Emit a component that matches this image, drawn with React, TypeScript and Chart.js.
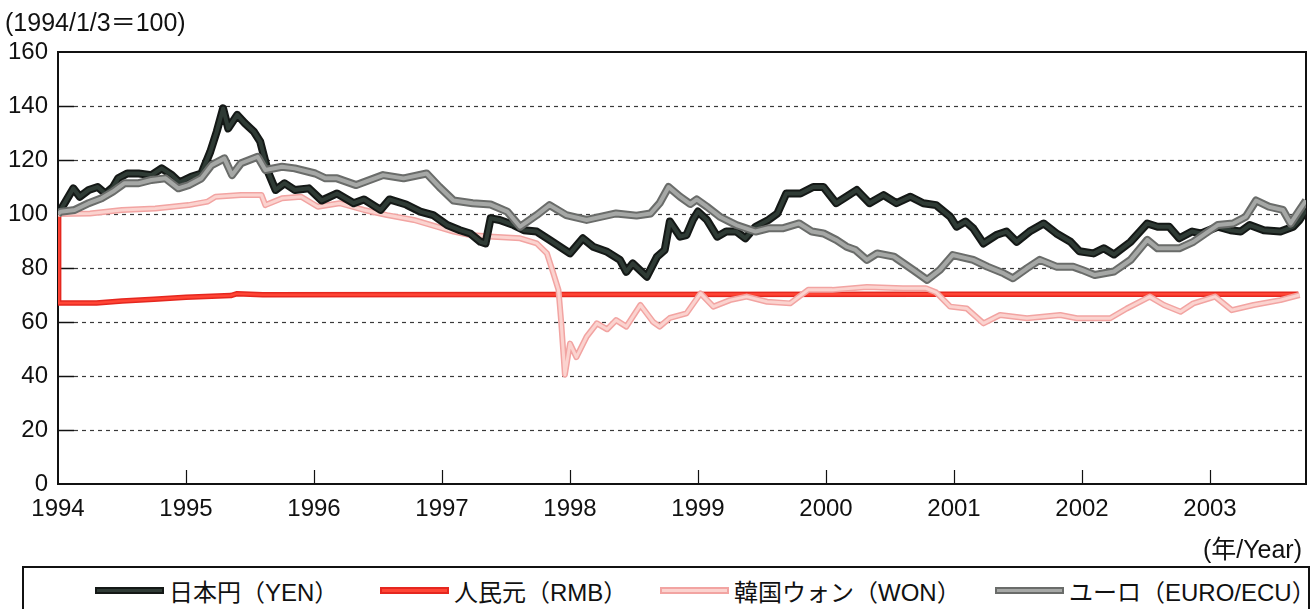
import React, { useEffect, useRef } from "react";
import { Chart, registerables } from "chart.js";

Chart.register(...registerables);

// ---------- data (decimal year, index 1994/1/3 = 100) ----------
const YEAR_TICKS = [1994, 1995, 1996, 1997, 1998, 1999, 2000, 2001, 2002, 2003];
const VALUE_TICKS = [0, 20, 40, 60, 80, 100, 120, 140, 160];

const YEN_T = [1994.0, 1994.02, 1994.12, 1994.17, 1994.24, 1994.31, 1994.37, 1994.43, 1994.47, 1994.54, 1994.63, 1994.73, 1994.81, 1994.89, 1994.95, 1995.04, 1995.12, 1995.19, 1995.24, 1995.29, 1995.33, 1995.4, 1995.46, 1995.53, 1995.58, 1995.64, 1995.7, 1995.77, 1995.85, 1995.96, 1996.06, 1996.18, 1996.31, 1996.39, 1996.52, 1996.59, 1996.72, 1996.83, 1996.93, 1997.04, 1997.14, 1997.22, 1997.3, 1997.34, 1997.38, 1997.45, 1997.56, 1997.64, 1997.74, 1997.84, 1998.0, 1998.1, 1998.18, 1998.29, 1998.39, 1998.44, 1998.49, 1998.6, 1998.68, 1998.74, 1998.78, 1998.86, 1998.91, 1998.96, 1999.0, 1999.07, 1999.15, 1999.22, 1999.3, 1999.37, 1999.45, 1999.55, 1999.62, 1999.69, 1999.8, 1999.9, 1999.98, 2000.08, 2000.16, 2000.24, 2000.34, 2000.45, 2000.55, 2000.66, 2000.76, 2000.86, 2000.97, 2001.02, 2001.09, 2001.15, 2001.23, 2001.33, 2001.41, 2001.49, 2001.59, 2001.7, 2001.8, 2001.91, 2001.98, 2002.09, 2002.17, 2002.25, 2002.38, 2002.51, 2002.59, 2002.68, 2002.76, 2002.86, 2002.93, 2003.06, 2003.16, 2003.24, 2003.31, 2003.42, 2003.55, 2003.65, 2003.7, 2003.75];
const YEN_V = [100, 101.5, 109.5, 106.4, 108.9, 110, 107.6, 110, 113.2, 115, 115, 114.4, 116.9, 114.4, 111.7, 113.8, 115, 123.1, 130.5, 139.1, 131.7, 136.7, 133.6, 130.5, 126.8, 115.7, 108.9, 111.4, 108.9, 109.5, 105, 107.6, 104, 105.4, 101.5, 105.4, 103.5, 100.9, 99.6, 95.9, 94, 92.8, 89.7, 89.1, 98.4, 97.8, 95.9, 94, 93.5, 90.4, 85.4, 91, 87.9, 86, 83, 78.6, 81.7, 76.8, 84.2, 86.7, 97.2, 91.6, 92.2, 97.8, 100.9, 97.8, 91.6, 93.5, 93.5, 91, 95.3, 97.8, 100.2, 107.6, 107.6, 110, 110, 104, 106.4, 108.9, 104, 107, 104, 106.4, 104, 103.3, 99, 95.3, 97.2, 94.7, 89.1, 92.2, 93.5, 89.7, 93.5, 96.5, 92.8, 89.7, 86.2, 85.4, 87.3, 85, 89.7, 96.5, 95.3, 95.3, 91, 93.5, 92.8, 95.3, 94, 93.5, 95.9, 94, 93.5, 95.3, 97.8, 101.5];

const RMB_T = [1994.0, 1994.005, 1994.3, 1994.5, 1994.75, 1995.0, 1995.35, 1995.4, 1995.6, 1997.7, 2000.9, 2003.69];
const RMB_V = [100, 67, 67, 67.8, 68.4, 69.2, 69.8, 70.5, 70.1, 70.2, 70.3, 70.3];

const WON_T = [1994.0, 1994.25, 1994.5, 1994.76, 1995.02, 1995.17, 1995.23, 1995.43, 1995.59, 1995.62, 1995.75, 1995.9, 1996.03, 1996.2, 1996.39, 1996.57, 1996.78, 1996.96, 1997.09, 1997.22, 1997.4, 1997.61, 1997.74, 1997.82, 1997.87, 1997.91, 1997.93, 1997.96, 1998.0, 1998.05, 1998.13, 1998.21, 1998.29, 1998.36, 1998.44, 1998.55, 1998.65, 1998.7, 1998.78, 1998.91, 1999.02, 1999.12, 1999.25, 1999.38, 1999.54, 1999.72, 1999.86, 2000.05, 2000.32, 2000.6, 2000.78, 2000.86, 2000.97, 2001.1, 2001.23, 2001.36, 2001.57, 2001.83, 2001.96, 2002.22, 2002.35, 2002.53, 2002.64, 2002.77, 2002.87, 2003.04, 2003.17, 2003.34, 2003.55, 2003.7];
const WON_V = [100, 100.2, 101.5, 102, 103.3, 104.6, 106.4, 107, 107, 103.3, 105.8, 106.4, 102.7, 104, 101.5, 99.6, 97.8, 95.3, 93.5, 92.2, 91.6, 91, 89.1, 85.4, 78, 71.9, 60.7, 40.5, 52, 47, 54.6, 59.5, 57.3, 60.7, 58.3, 66.3, 60, 58.3, 61.5, 63.2, 70.6, 65.7, 68.1, 69.4, 67.5, 66.9, 71.9, 71.9, 73, 72.5, 72.5, 71, 65.7, 65, 59.5, 62.6, 61.4, 62.6, 61.4, 61.4, 65, 69.4, 66.3, 63.8, 66.9, 69.4, 64.4, 66.3, 68.1, 70];

const EURO_T = [1994.0, 1994.02, 1994.13, 1994.24, 1994.34, 1994.43, 1994.52, 1994.63, 1994.73, 1994.84, 1994.94, 1995.02, 1995.12, 1995.2, 1995.3, 1995.36, 1995.43, 1995.56, 1995.62, 1995.75, 1995.85, 1996.01, 1996.09, 1996.18, 1996.33, 1996.54, 1996.7, 1996.88, 1996.98, 1997.09, 1997.24, 1997.38, 1997.51, 1997.61, 1997.74, 1997.84, 1997.97, 1998.13, 1998.36, 1998.52, 1998.63, 1998.7, 1998.77, 1998.86, 1998.94, 1998.99, 1999.07, 1999.17, 1999.3, 1999.45, 1999.55, 1999.66, 1999.79, 1999.89, 1999.98, 2000.08, 2000.16, 2000.23, 2000.32, 2000.4, 2000.53, 2000.68, 2000.79, 2000.89, 2000.99, 2001.15, 2001.26, 2001.39, 2001.46, 2001.57, 2001.67, 2001.8, 2001.93, 2002.0, 2002.1, 2002.25, 2002.38, 2002.51, 2002.59, 2002.76, 2002.87, 2003.06, 2003.18, 2003.28, 2003.36, 2003.46, 2003.57, 2003.63, 2003.7, 2003.75];
const EURO_V = [100, 100.8, 101.5, 104, 105.8, 108.3, 111.4, 111.4, 112.6, 113.2, 109.5, 110.7, 113.2, 118.1, 120.6, 114.4, 118.8, 121.2, 116.3, 117.5, 116.9, 115, 113.2, 113.2, 110.7, 114.4, 113.2, 115, 110, 105, 104, 103.5, 100.9, 95.3, 99.6, 103.3, 99.6, 97.8, 100.2, 99.4, 100.2, 104, 110, 106.4, 103.7, 105.4, 102.7, 99, 95.9, 93.5, 94.7, 94.7, 96.5, 93.5, 92.8, 90.4, 87.9, 86.7, 83, 85.4, 84.2, 79.3, 75.6, 79.3, 84.8, 83, 80.5, 78, 76.2, 79.9, 83, 80.5, 80.5, 79.3, 77.4, 78.7, 83, 90.4, 87.3, 87.3, 89.7, 95.9, 96.5, 99, 105, 102.7, 101.5, 96.5, 101.5, 105];

const LABELS = ["日本円（YEN）", "人民元（RMB）", "韓国ウォン（WON）", "ユーロ（EURO/ECU）"];

// ---------- styling ----------
const FONT = '"Liberation Sans", Arial, "Noto Sans CJK JP", sans-serif';
const STYLES = [
  { outer: "#141816", inner: "#2f3b35", ow: 8, iw: 4 }, // YEN
  { outer: "#e5271f", inner: "#ff4535", ow: 5.5, iw: 2.5 }, // RMB
  { outer: "#f2a4a2", inner: "#fbd3cf", ow: 6, iw: 3 }, // WON
  { outer: "#6a6c6a", inner: "#a6a8a6", ow: 8, iw: 4 }, // EURO
];
const LEGEND_X = [95, 380, 660, 995];

function pts(t: number[], v: number[]) {
  return t.map((x, i) => ({ x, y: v[i] }));
}

const framePlugin = {
  id: "frameGrid",
  beforeDatasetsDraw(chart: any) {
    const { ctx, chartArea: a, scales } = chart;
    const ys = scales.y;
    const xs = scales.x;
    ctx.save();
    ctx.strokeStyle = "#3a3a3a";
    ctx.lineWidth = 1.2;
    ctx.setLineDash([4, 4]);
    for (const v of VALUE_TICKS) {
      if (v === 0 || v === 160) continue;
      const py = Math.round(ys.getPixelForValue(v)) + 0.5;
      ctx.beginPath();
      ctx.moveTo(a.left + 16, py);
      ctx.lineTo(a.right, py);
      ctx.stroke();
    }
    ctx.setLineDash([]);
    ctx.strokeStyle = "#111";
    ctx.lineWidth = 1.5;
    for (const v of VALUE_TICKS) {
      if (v === 0 || v === 160) continue;
      const py = Math.round(ys.getPixelForValue(v)) + 0.5;
      ctx.beginPath();
      ctx.moveTo(a.left, py);
      ctx.lineTo(a.left + 16, py);
      ctx.stroke();
    }
    ctx.lineWidth = 1.2;
    for (const yr of YEAR_TICKS) {
      if (yr === 1994) continue;
      const px = Math.round(xs.getPixelForValue(yr)) + 0.5;
      ctx.beginPath();
      ctx.moveTo(px, a.bottom);
      ctx.lineTo(px, a.bottom - 14);
      ctx.stroke();
    }
    ctx.lineWidth = 2;
    ctx.strokeStyle = "#111";
    ctx.strokeRect(a.left, a.top, a.right - a.left, a.bottom - a.top);
    ctx.restore();
  },
};

export default function App() {
  const ref = useRef<HTMLCanvasElement | null>(null);

  useEffect(() => {
    if (!ref.current) return;
    const series = [pts(YEN_T, YEN_V), pts(RMB_T, RMB_V), pts(WON_T, WON_V), pts(EURO_T, EURO_V)];
    // drawing order from bottom: RMB, WON, YEN, EURO
    const zBase = [4, 8, 6, 2];
    const datasets: any[] = [];
    series.forEach((data, i) => {
      const s = STYLES[i];
      datasets.push({
        label: LABELS[i] + "-edge",
        data,
        borderColor: s.outer,
        borderWidth: s.ow,
        pointRadius: 0,
        tension: 0,
        borderJoinStyle: "round",
        borderCapStyle: "butt",
        order: zBase[i],
      });
      datasets.push({
        label: LABELS[i],
        data,
        borderColor: s.inner,
        borderWidth: s.iw,
        pointRadius: 0,
        tension: 0,
        borderJoinStyle: "round",
        borderCapStyle: "butt",
        order: zBase[i] - 1,
      });
    });

    const chart = new Chart(ref.current, {
      type: "line",
      data: { datasets },
      plugins: [framePlugin],
      options: {
        animation: false,
        responsive: false,
        devicePixelRatio: 1,
        parsing: true,
        layout: { padding: { left: 0, right: 8, top: 52, bottom: 0 } },
        plugins: { legend: { display: false }, tooltip: { enabled: false } },
        scales: {
          x: {
            type: "linear",
            min: 1994,
            max: 2003.75,
            afterBuildTicks: (s: any) => {
              s.ticks = YEAR_TICKS.map((v) => ({ value: v }));
            },
            afterFit: (s: any) => {
              s.height = 76;
            },
            grid: { display: false, drawTicks: false },
            border: { display: false },
            ticks: {
              autoSkip: false,
              maxRotation: 0,
              padding: 11,
              color: "#111",
              font: { family: FONT, size: 24 },
              callback: (v: any) => String(v),
            },
          },
          y: {
            type: "linear",
            min: 0,
            max: 160,
            afterBuildTicks: (s: any) => {
              s.ticks = VALUE_TICKS.map((v) => ({ value: v }));
            },
            afterFit: (s: any) => {
              s.width = 58;
            },
            grid: { display: false, drawTicks: false },
            border: { display: false },
            ticks: {
              autoSkip: false,
              padding: 10,
              color: "#111",
              font: { family: FONT, size: 24 },
              callback: (v: any) => String(v),
            },
          },
        },
      } as any,
    });
    return () => chart.destroy();
  }, []);

  const textStyle: React.CSSProperties = {
    position: "absolute",
    fontFamily: FONT,
    fontSize: 25,
    lineHeight: "28px",
    color: "#111",
    whiteSpace: "nowrap",
  };

  return (
    <div
      style={{
        position: "absolute",
        left: 0,
        top: 0,
        width: 1314,
        height: 609,
        overflow: "hidden",
        background: "#fff",
      }}
    >
      <canvas ref={ref} width={1314} height={560} style={{ position: "absolute", left: 0, top: 0 }} />
      <div style={{ ...textStyle, left: 5, top: 8 }}>(1994/1/3＝100)</div>
      <div style={{ ...textStyle, right: 12, top: 535 }}>(年/Year)</div>
      <div
        style={{
          position: "absolute",
          left: 22,
          top: 566,
          width: 1288,
          height: 70,
          border: "2px solid #111",
          boxSizing: "border-box",
        }}
      />
      {LABELS.map((lab, i) => {
        const s = STYLES[i];
        return (
          <div key={lab} style={{ position: "absolute", left: LEGEND_X[i], top: 576, height: 28, display: "flex", alignItems: "center" }}>
            <div
              style={{
                width: 65,
                height: 3,
                background: s.inner,
                border: `2px solid ${s.outer}`,
                marginRight: 5,
              }}
            />
            <span style={{ fontFamily: FONT, fontSize: 24, color: "#111", whiteSpace: "nowrap" }}>{lab}</span>
          </div>
        );
      })}
    </div>
  );
}
